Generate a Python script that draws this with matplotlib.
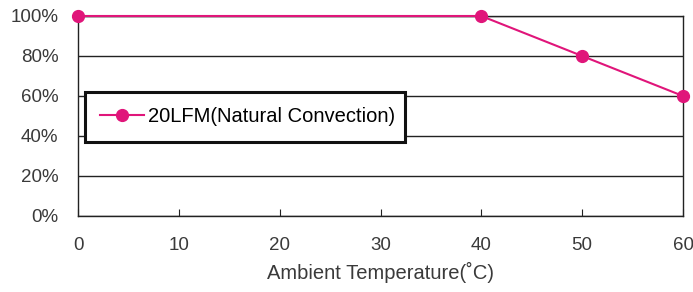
import numpy as np
import matplotlib.pyplot as plt

plt.rcParams['font.family'] = ['Liberation Sans', 'DejaVu Sans']

# %% data -----

temps = [0, 40, 50, 60]
load_pct = [100, 100, 80, 60]
series_label = '20LFM(Natural Convection)'
xticks = [0, 10, 20, 30, 40, 50, 60]
yticks = [0, 20, 40, 60, 80, 100]

# %% plot -----

fig = plt.figure(figsize=(6.93, 2.92), dpi=100)
ax = fig.add_axes([78 / 693, 1 - 216 / 292, 605 / 693, 200 / 292])

pink = '#e0157a'
ax.plot(temps, load_pct, color=pink, lw=1.5, marker='o', ms=8.5,
        label=series_label, zorder=3, clip_on=False)

ax.set_xlim(0, 60)
ax.set_ylim(0, 100)
ax.set_xticks(xticks)
ax.set_yticks(yticks)
ax.set_yticklabels([f'{v}%' for v in yticks])
ax.grid(axis='y', color='#222222', lw=1)
ax.set_axisbelow(True)

for s in ax.spines.values():
    s.set_color('#222222')
    s.set_linewidth(1)

ax.tick_params(axis='x', direction='in', length=5, pad=15, colors='#222222',
               labelcolor='#3a3a3a', labelsize=13.5)
ax.tick_params(axis='y', length=0, pad=14, labelcolor='#3a3a3a', labelsize=13.5)
ax.set_xlabel('Ambient Temperature(˚C)', fontsize=14.5, color='#3a3a3a', labelpad=6)

leg = ax.legend(loc='center left', bbox_to_anchor=(0.0116, 0.37, 0.529, 0.25),
                mode='expand', fontsize=14.5, frameon=True, fancybox=False,
                borderpad=0.75, handlelength=2.2, handletextpad=0.2,
                borderaxespad=0)
leg.get_frame().set_edgecolor('#111111')
leg.get_frame().set_linewidth(2.2)
leg.get_frame().set_alpha(1)

plt.savefig('out.png', dpi=100)
